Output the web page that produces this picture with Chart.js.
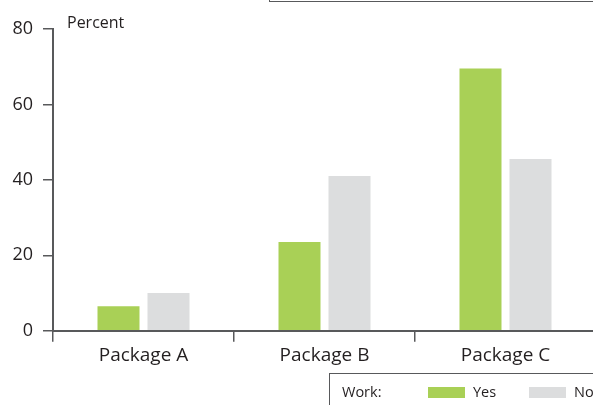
<!DOCTYPE html>
<html>
<head>
<meta charset="utf-8">
<script src="https://cdn.jsdelivr.net/npm/chart.js@4"></script>
<style>
  html, body { margin: 0; padding: 0; background: #fff; overflow: hidden; }
  #wrap { position: relative; width: 596px; height: 405px; }
  #frame { position: absolute; left: 269px; top: -58px; width: 400px; height: 60px;
           border: 1.5px solid #58595b; box-sizing: border-box; }
  #legend { position: absolute; left: 329px; top: 373px; width: 320px; height: 60px;
            border: 1.5px solid #58595b; box-sizing: border-box;
            font: 14.5px "Open Sans", sans-serif; color: #231f20; }
  #legend span { position: absolute; top: 8px; white-space: nowrap; }
  #legend i { position: absolute; top: 13px; width: 37px; height: 11px; }
</style>
</head>
<body>
<div id="wrap">
  <canvas id="chart" width="596" height="405"></canvas>
  <div id="frame"></div>
  <div id="legend"></div>
</div>
<script>
const categories = ['Package A', 'Package B', 'Package C'];
const seriesNames = ['Yes', 'No'];
const yesValues = [6.5, 23.5, 69.5];
const noValues = [10, 41, 45.5];
const yTicks = [0, 20, 40, 60, 80];

const GREEN = '#a9d056';
const GREY = '#dcddde';
const INK = '#231f20';
const AXIS = '#58595b';
const FONT = '"Open Sans", sans-serif';

// "Percent" caption sits just right of the top of the value axis
const unitLabel = {
  id: 'unitLabel',
  afterDraw(chart) {
    const { ctx, chartArea } = chart;
    ctx.save();
    ctx.font = '16px ' + FONT;
    ctx.fillStyle = INK;
    ctx.textBaseline = 'alphabetic';
    ctx.fillText('Percent', chartArea.left + 14, chartArea.top - 1);
    ctx.restore();
  }
};

const chart = new Chart(document.getElementById('chart'), {
  type: 'bar',
  data: {
    labels: categories,
    datasets: [
      { label: seriesNames[0], data: yesValues, backgroundColor: GREEN },
      { label: seriesNames[1], data: noValues, backgroundColor: GREY }
    ]
  },
  plugins: [unitLabel],
  options: {
    responsive: false,
    animation: false,
    layout: { padding: { top: 29, right: 0, left: 0, bottom: 0 } },
    datasets: { bar: { categoryPercentage: 0.5525, barPercentage: 0.84 } },
    plugins: { legend: { display: false }, tooltip: { enabled: false } },
    scales: {
      x: {
        grid: { offset: true, drawOnChartArea: false, drawTicks: true, tickLength: 11,
                color: AXIS, lineWidth: 1.5 },
        border: { color: AXIS, width: 2 },
        ticks: { color: INK, font: { family: FONT, size: 19 }, padding: 2 },
        afterFit(scale) { scale.height = 74.3; }
      },
      y: {
        min: 0,
        max: 80,
        afterBuildTicks(scale) { scale.ticks = yTicks.map(v => ({ value: v })); },
        grid: { drawOnChartArea: false, drawTicks: true, tickLength: 10,
                color: AXIS, lineWidth: 1.5 },
        border: { color: AXIS, width: 2 },
        ticks: { color: INK, font: { family: FONT, size: 18 }, padding: 10 },
        afterFit(scale) { scale.width = 53; }
      }
    }
  }
});

// legend row built from the datasets
const legend = document.getElementById('legend');
legend.innerHTML = '<span style="left:12px">Work:</span>';
const swatchX = [98, 199];
chart.data.datasets.forEach((ds, i) => {
  legend.insertAdjacentHTML('beforeend',
    `<i style="left:${swatchX[i]}px;background:${ds.backgroundColor}"></i>` +
    `<span style="left:${swatchX[i] + 45}px">${ds.label}</span>`);
});
</script>
</body>
</html>
